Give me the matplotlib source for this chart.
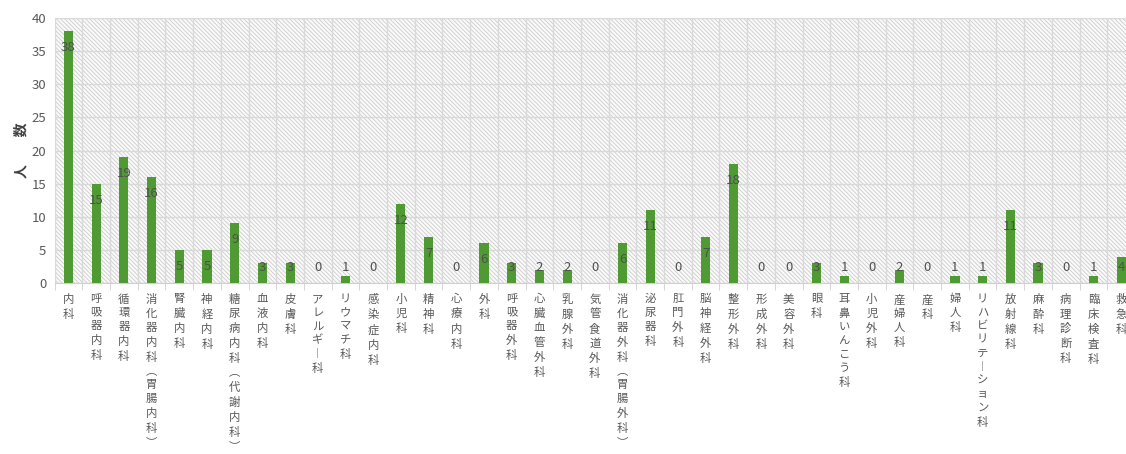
import matplotlib.pyplot as plt
import numpy as np
from matplotlib.patches import Rectangle

plt.rcParams['font.family'] = ['Noto Sans CJK JP', 'DejaVu Sans']
plt.rcParams['hatch.linewidth'] = 0.6
plt.rcParams['hatch.color'] = '#cccccc'

departments = [
    '内科', '呼吸器内科', '循環器内科', '消化器内科（胃腸内科）', '腎臓内科', '神経内科',
    '糖尿病内科（代謝内科）', '血液内科', '皮膚科', 'アレルギー科', 'リウマチ科', '感染症内科',
    '小児科', '精神科', '心療内科', '外科', '呼吸器外科', '心臓血管外科', '乳腺外科',
    '気管食道外科', '消化器外科（胃腸外科）', '泌尿器科', '肛門外科', '脳神経外科', '整形外科',
    '形成外科', '美容外科', '眼科', '耳鼻いんこう科', '小児外科', '産婦人科', '産科', '婦人科',
    'リハビリテーション科', '放射線科', '麻酔科', '病理診断科', '臨床検査科', '救急科',
]
counts = [38, 15, 19, 16, 5, 5, 9, 3, 3, 0, 1, 0, 12, 7, 0, 6, 3, 2, 2, 0, 6, 11, 0, 7, 18,
          0, 0, 3, 1, 0, 2, 0, 1, 1, 11, 3, 0, 1, 4]

# vertical-writing forms for brackets and long vowel mark
vert_map = {'（': '︵', '）': '︶', 'ー': '︱'}


def vertical(label):
    return '\n'.join(vert_map.get(c, c) for c in label)


W, H = 1126, 454
fig = plt.figure(figsize=(W / 100, H / 100), dpi=100)
left, right, top, bottom = 54.6, 1135, 18, 283
ax = fig.add_axes([left / W, 1 - bottom / H, (right - left) / W, (bottom - top) / H])

n = len(departments)
x = np.arange(n)
ax.set_xlim(-0.5, n - 0.5)
ax.set_ylim(0, 40)

# hatched plot area background
ax.add_patch(Rectangle((0, 0), 1, 1, transform=ax.transAxes, facecolor='#fafafa',
                       hatch='\\\\\\\\\\\\\\\\', edgecolor='#cccccc', linewidth=0, zorder=0))

ax.bar(x, counts, width=0.33, color='#4f9a32', zorder=3)

for xi, v in zip(x, counts):
    ax.text(xi, max(v - 2.5, 2.3), str(v), ha='center', va='center',
            fontsize=9.5, color='#505050', zorder=4)

ax.set_yticks(range(0, 41, 5))
ax.tick_params(axis='y', length=0, labelsize=9.5, labelcolor='#595959', pad=6)
ax.set_xticks(x)
ax.set_xticklabels([vertical(d) for d in departments], fontsize=8.2, color='#595959',
                   linespacing=1.45, va='top')
ax.tick_params(axis='x', which='major', length=0, pad=8)
ax.set_xticks(np.arange(-0.5, n, 1), minor=True)
ax.tick_params(axis='x', which='minor', length=5, color='#d0d0d0')

ax.grid(axis='y', color='#d9d9d9', linewidth=1.0, zorder=1)
ax.grid(axis='x', which='minor', color='#d9d9d9', linewidth=1.0, zorder=1)
ax.grid(axis='x', which='major', visible=False)
ax.set_axisbelow(True)

for s in ['left', 'right', 'top']:
    ax.spines[s].set_visible(False)
ax.spines['bottom'].set_color('#d0d0d0')

ax.set_ylabel('人　　数', fontsize=10, color='#404040', fontweight='bold', labelpad=2)

fig.savefig('out.png', dpi=100)
